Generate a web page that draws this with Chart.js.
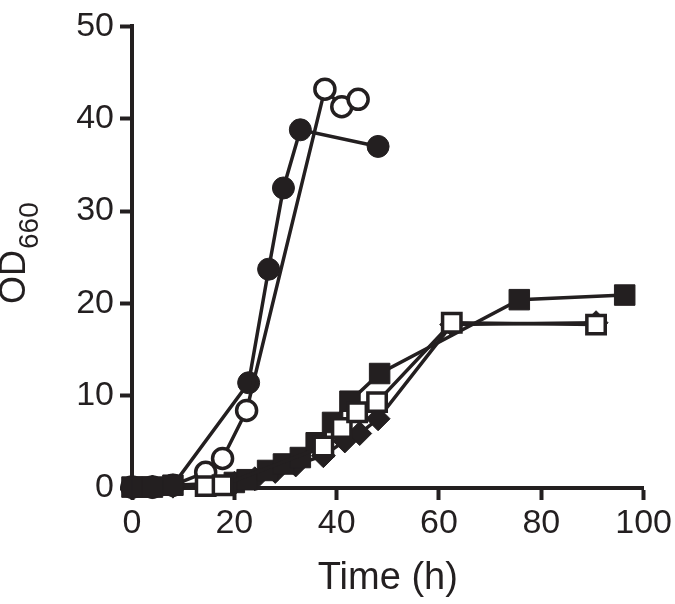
<!DOCTYPE html>
<html>
<head>
<meta charset="utf-8">
<script src="https://cdn.jsdelivr.net/npm/chart.js@4/dist/chart.umd.min.js"></script>
<style>
  html, body { margin: 0; padding: 0; background: #ffffff; }
  #wrap { width: 675px; height: 604px; }
</style>
</head>
<body>
<div id="wrap"><canvas id="c" width="675" height="604"></canvas></div>
<script>
// ---- data ----
const xTicks = [0, 20, 40, 60, 80, 100];
const yTicks = [0, 10, 20, 30, 40, 50];

// filled circles
const fcTime = [0, 4, 8, 22.8, 26.7, 29.6, 32.9, 48.1];
const fcOD   = [0.1, 0.1, 0.3, 11.4, 23.7, 32.5, 38.8, 37.0];

// open circles
const ocTime = [0, 4, 8, 14.4, 17.7, 22.4, 37.7, 41.0, 44.2];
const ocOD   = [0.1, 0.1, 0.3, 1.7, 3.2, 8.4, 43.2, 41.3, 42.1];

// filled squares
const fsTime = [0, 2, 4, 8, 20, 22.5, 26.5, 29.6, 32.9, 36.0, 39.2, 42.6, 48.4, 75.7, 96.3];
const fsOD   = [0.1, 0.1, 0.1, 0.3, 0.6, 0.9, 1.9, 2.6, 3.3, 4.9, 7.1, 9.4, 12.4, 20.4, 20.9];

// open squares
const osTime = [14.4, 17.7, 37.4, 41.0, 44.0, 47.9, 62.5, 90.7];
const osOD   = [0.2, 0.3, 4.5, 6.5, 8.2, 9.3, 17.9, 17.7];

// filled diamonds
const fdTime = [0, 4, 8, 20, 24, 28, 32, 37.4, 41.6, 44.5, 48.1, 62.5, 90.7];
const fdOD   = [0, 0.1, 0.2, 0.5, 1.0, 1.8, 2.5, 3.5, 5.1, 5.9, 7.5, 17.7, 17.9];

const INK = '#231f20';
const pts = (xs, ys) => xs.map((x, i) => ({ x: x, y: ys[i] }));

function ds(label, xs, ys, style, filled, radius) {
  return {
    label: label,
    data: pts(xs, ys),
    borderColor: INK,
    borderWidth: 3.5,
    pointStyle: style,
    pointRadius: radius,
    pointHoverRadius: radius,
    pointBackgroundColor: filled ? INK : '#ffffff',
    pointBorderColor: INK,
    pointBorderWidth: filled ? 1 : 3.5,
    fill: false,
    tension: 0,
    clip: false
  };
}

const yTitlePlugin = {
  id: 'yTitle',
  afterDraw(chart) {
    const ctx = chart.ctx;
    ctx.save();
    ctx.translate(25, 304);
    ctx.rotate(-Math.PI / 2);
    ctx.fillStyle = INK;
    ctx.textAlign = 'left';
    ctx.textBaseline = 'alphabetic';
    ctx.font = '36px "Liberation Sans", Arial, sans-serif';
    ctx.fillText('OD', 0, 0);
    const w = ctx.measureText('OD').width;
    ctx.font = '28px "Liberation Sans", Arial, sans-serif';
    ctx.fillText('660', w + 1, 13);
    ctx.restore();
  }
};

Chart.defaults.font.family = '"Liberation Sans", Arial, sans-serif';
Chart.defaults.color = INK;

new Chart(document.getElementById('c'), {
  type: 'line',
  data: {
    datasets: [
      ds('open squares', osTime, osOD, 'rect', false, 13),
      ds('filled squares', fsTime, fsOD, 'rect', true, 14.5),
      ds('filled diamonds', fdTime, fdOD, 'rectRot', true, 12),
      ds('open circles', ocTime, ocOD, 'circle', false, 10),
      ds('filled circles', fcTime, fcOD, 'circle', true, 11)
    ]
  },
  options: {
    responsive: false,
    animation: false,
    events: [],
    layout: { padding: { left: 0, top: 13, right: 30, bottom: 0 } },
    plugins: { legend: { display: false }, tooltip: { enabled: false } },
    scales: {
      x: {
        type: 'linear',
        min: 0, max: 100,
        afterFit(s) { s.height = 116; },
        afterBuildTicks(s) { s.ticks = xTicks.map(v => ({ value: v })); },
        border: { display: true, color: INK, width: 4 },
        grid: { drawOnChartArea: false, drawTicks: true, tickLength: 12, tickWidth: 4, tickColor: INK },
        ticks: { font: { size: 34 }, color: INK, padding: 3, maxRotation: 0 },
        title: { display: true, text: 'Time (h)', font: { size: 38 }, color: INK, padding: { top: 0, bottom: 3 } }
      },
      y: {
        type: 'linear',
        min: 0, max: 50,
        afterFit(s) { s.width = 132; },
        afterBuildTicks(s) { s.ticks = yTicks.map(v => ({ value: v })); },
        border: { display: true, color: INK, width: 4 },
        grid: { drawOnChartArea: false, drawTicks: true, tickLength: 12, tickWidth: 4, tickColor: INK },
        ticks: { font: { size: 34 }, color: INK, padding: 6 }
      }
    }
  },
  plugins: [yTitlePlugin]
});
</script>
</body>
</html>
